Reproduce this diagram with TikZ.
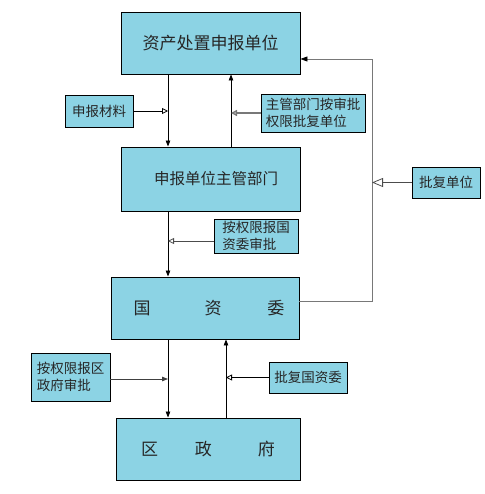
\documentclass[tikz,border=0pt]{standalone}
\usepackage{fontspec}
\newfontfamily\cjk{Noto Sans CJK SC}
\usetikzlibrary{arrows.meta,calc}
\definecolor{boxfill}{RGB}{140,211,228}
\definecolor{linegray}{RGB}{120,120,120}
\tikzset{
  box/.style={draw=black,line width=0.9pt,fill=boxfill,inner sep=0pt,font=\cjk,text=black!85},
  bigtext/.style={font=\cjk\fontsize{17}{20}\selectfont},
  midtext/.style={font=\cjk\fontsize{15.5}{18}\selectfont},
  smalltext/.style={font=\cjk\fontsize{13.5}{17}\selectfont,align=left},
  mainarr/.style={draw=black,line width=0.8pt,-{Triangle[length=6pt,width=4.5pt]}},
  looparr/.style={draw=linegray,line width=0.9pt,-{Triangle[length=7pt,width=5pt,color=black]}},
  openarr/.style={line width=0.8pt,-{Triangle[open,length=6pt,width=6pt,fill=white]}},
  bigopen/.style={line width=0.8pt,-{Triangle[open,length=11pt,width=9pt,fill=white]}},
}
\begin{document}
\begin{tikzpicture}[x=1pt,y=-1pt]
\useasboundingbox (0,0) rectangle (484,494);
% main boxes
\node[box,bigtext,minimum width=179pt,minimum height=62pt] (b1) at (210.5,43) {资产处置申报单位};
\node[box,midtext,minimum width=179pt,minimum height=64pt] (b2) at (210.5,179) {\hspace*{11pt}申报单位主管部门};
\node[box,bigtext,minimum width=188pt,minimum height=62pt] (b3) at (205,308) {\hspace*{8pt}国\hspace{54pt}资\hspace{46pt}委};
\node[box,bigtext,minimum width=184pt,minimum height=62pt] (b4) at (208,449) {区\hspace{37pt}政\hspace{46pt}府};
% side boxes
\node[box,smalltext,minimum width=68pt,minimum height=32pt] (m1) at (99,111) {申报材料};
\node[box,smalltext,minimum width=104pt,minimum height=38pt] (m2) at (313,113) {主管部门按审批\\权限批复单位};
\node[box,smalltext,minimum width=84pt,minimum height=34pt] (m3) at (256,236) {按权限报国\\资委审批};
\node[box,smalltext,minimum width=68pt,minimum height=31pt] (m4) at (446,182.5) {批复单位};
\node[box,smalltext,minimum width=79pt,minimum height=48pt] (m5) at (70.5,377) {按权限报区\\政府审批};
\node[box,smalltext,minimum width=78pt,minimum height=31pt] (m6) at (308,377.5) {批复国资委};
% helper coordinates
\coordinate (xa) at (168,0);
\coordinate (xb) at (231,0);
\coordinate (xc) at (226,0);
\coordinate (c1) at (372,301);
\coordinate (c2) at (372,59);
% vertical flows
\draw[mainarr] (b1.south -| xa) -- (b2.north -| xa);
\draw[mainarr] (b2.north -| xb) -- (b1.south -| xb);
\draw[mainarr] (b2.south -| xa) -- (b3.north -| xa);
\draw[mainarr] (b3.south -| xa) -- (b4.north -| xa);
\draw[mainarr] (b4.north -| xc) -- (b3.south -| xc);
% side inputs
\draw[openarr,draw=black] (m1.east) -- (m1.east -| xa);
\draw[openarr,draw=linegray,line width=1.4pt] (m2.west) -- (m2.west -| xb);
\draw[openarr,draw=black!70] ([yshift=-5pt]m3.west) -- ([yshift=-5pt]m3.west -| xa);
\draw[mainarr,draw=black!75] ([yshift=-2pt]m5.east) -- ([yshift=-2pt]m5.east -| xa);
\draw[openarr,draw=black] (m6.west) -- (m6.west -| xc);
% loop back to the top
\draw[looparr] (b3.east |- c1) -- (c1) -- (c2) -- (c2 -| b1.east);
\draw[bigopen,draw=black!70] (m4.west) -- (m4.west -| c1);
\end{tikzpicture}
\end{document}
